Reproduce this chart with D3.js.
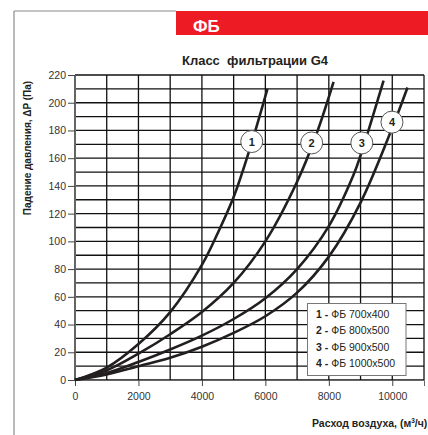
<!DOCTYPE html>
<html><head><meta charset="utf-8">
<script src="https://cdn.jsdelivr.net/npm/d3@7"></script>
<style>
html,body{margin:0;padding:0;background:#fff;overflow:hidden;}
svg{display:block;font-family:"Liberation Sans",Arial,sans-serif;}
</style></head>
<body>
<svg id="c" width="428" height="435"></svg>
<script>
const xTicks = [0, 2000, 4000, 6000, 8000, 10000];
const yTicks = [0, 20, 40, 60, 80, 100, 120, 140, 160, 180, 200, 220];
const seriesNames = ["1", "2", "3", "4"];
const legendLabels = ["ФБ 700x400", "ФБ 800x500", "ФБ 900x500", "ФБ 1000x500"];
const curve1 = [[0,0],[1000,9],[2000,26],[3000,49],[4000,83],[4500,106],[5000,132],[5500,166],[6066,210]];
const curve2 = [[0,0],[1000,7],[2000,19],[3000,33],[4000,49],[5000,70],[6000,100],[7000,143],[7620,178],[8150,215]];
const curve3 = [[0,0],[1000,5],[2000,13],[3000,22],[4000,32],[5000,44],[6000,59],[7000,80],[8000,111],[8780,148],[9000,162],[9726,216]];
const curve4 = [[0,0],[1000,4],[2000,10],[3000,16],[4000,24],[5000,34],[6000,46],[7000,63],[8000,89],[9000,128],[10000,182],[10480,211]];
const labelPos = [[5570,172],[7460,171],[9040,171],[9990,186]];

const svg = d3.select("#c");
const x = d3.scaleLinear().domain([0, 11000]).range([75, 424]);
const y = d3.scaleLinear().domain([0, 220]).range([380, 75]);

// frame
svg.append("line").attr("x1",14).attr("x2",14).attr("y1",11).attr("y2",435).attr("stroke","#8a8a8a").attr("stroke-width",1.2);
svg.append("line").attr("x1",14).attr("x2",176).attr("y1",11).attr("y2",11).attr("stroke","#8a8a8a").attr("stroke-width",1.2);
svg.append("rect").attr("x",176).attr("y",11).attr("width",252).attr("height",24).attr("fill","#ed1c24");
svg.append("text").attr("x",193).attr("y",32).attr("fill","#fff").attr("font-size",17).attr("font-weight","bold").text("ФБ");

// title
svg.append("text").attr("x",255).attr("y",65).attr("text-anchor","middle").attr("font-size",13).attr("font-weight","bold").attr("fill","#231f20").attr("xml:space","preserve").text("Класс  фильтрации G4");

// grid
const g = svg.append("g");
const vx = d3.range(0, 11001, 1000);
const hy = d3.range(0, 221, 10);
g.selectAll(".v").data(vx).join("line")
  .attr("x1",d=>x(d)).attr("x2",d=>x(d)).attr("y1",y(0)).attr("y2",y(220))
  .attr("stroke","#111").attr("stroke-width",1.3);
g.selectAll(".h").data(hy).join("line")
  .attr("x1",x(0)).attr("x2",x(11000)).attr("y1",d=>y(d)).attr("y2",d=>y(d))
  .attr("stroke","#111").attr("stroke-width",1.3);

// axes
const yAxis = svg.append("g").attr("transform",`translate(${x(0)},0)`)
  .call(d3.axisLeft(y).tickValues(yTicks).tickSize(7).tickPadding(2).tickFormat(d3.format("d")));
const xAxis = svg.append("g").attr("transform",`translate(0,${y(0)})`)
  .call(d3.axisBottom(x).tickValues(xTicks).tickSize(6).tickPadding(7).tickFormat(d3.format("d")));
[yAxis, xAxis].forEach(a=>{
  a.select(".domain").attr("stroke","#666").attr("stroke-width",1);
  a.selectAll(".tick line").attr("stroke","#444").attr("stroke-width",1);
  a.selectAll(".tick text").attr("font-size",10.5).attr("fill","#333").attr("font-family","Liberation Sans, Arial, sans-serif");
});

// axis titles
svg.append("text").attr("transform","translate(31,148) rotate(-90)").attr("text-anchor","middle")
  .attr("font-size",10).attr("font-weight","bold").attr("fill","#231f20").text("Падение давления, ΔP (Па)");
const xt = svg.append("text").attr("x",312).attr("y",427).attr("font-size",10.5).attr("font-weight","bold").attr("fill","#231f20");
xt.append("tspan").text("Расход воздуха, (м");
xt.append("tspan").attr("font-size",6.5).attr("dy",-4).text("3");
xt.append("tspan").attr("dy",4).text("/ч)");

// curves
const line = d3.line().x(d=>x(d[0])).y(d=>y(d[1])).curve(d3.curveCatmullRom.alpha(0.5));
[curve1, curve2, curve3, curve4].forEach(c=>{
  svg.append("path").attr("d",line(c)).attr("fill","none").attr("stroke","#231f20").attr("stroke-width",2.6);
});

// curve labels
labelPos.forEach((p,i)=>{
  svg.append("circle").attr("cx",x(p[0])).attr("cy",y(p[1])).attr("r",11).attr("fill","#fff").attr("stroke","#555").attr("stroke-width",1);
  svg.append("text").attr("x",x(p[0])).attr("y",y(p[1])+4).attr("text-anchor","middle").attr("font-size",11).attr("font-weight","bold").attr("fill","#231f20").text(seriesNames[i]);
});

// legend
const lg = svg.append("g");
lg.append("rect").attr("x",307.5).attr("y",303.5).attr("width",98.5).attr("height",72).attr("fill","#fff").attr("stroke","#777").attr("stroke-width",1);
legendLabels.forEach((l,i)=>{
  const t = lg.append("text").attr("x",316).attr("y",318+i*16.3).attr("font-size",10.5).attr("fill","#231f20");
  t.append("tspan").attr("font-weight","bold").text(seriesNames[i]+" - ");
  t.append("tspan").text(l);
});
</script>
</body></html>
